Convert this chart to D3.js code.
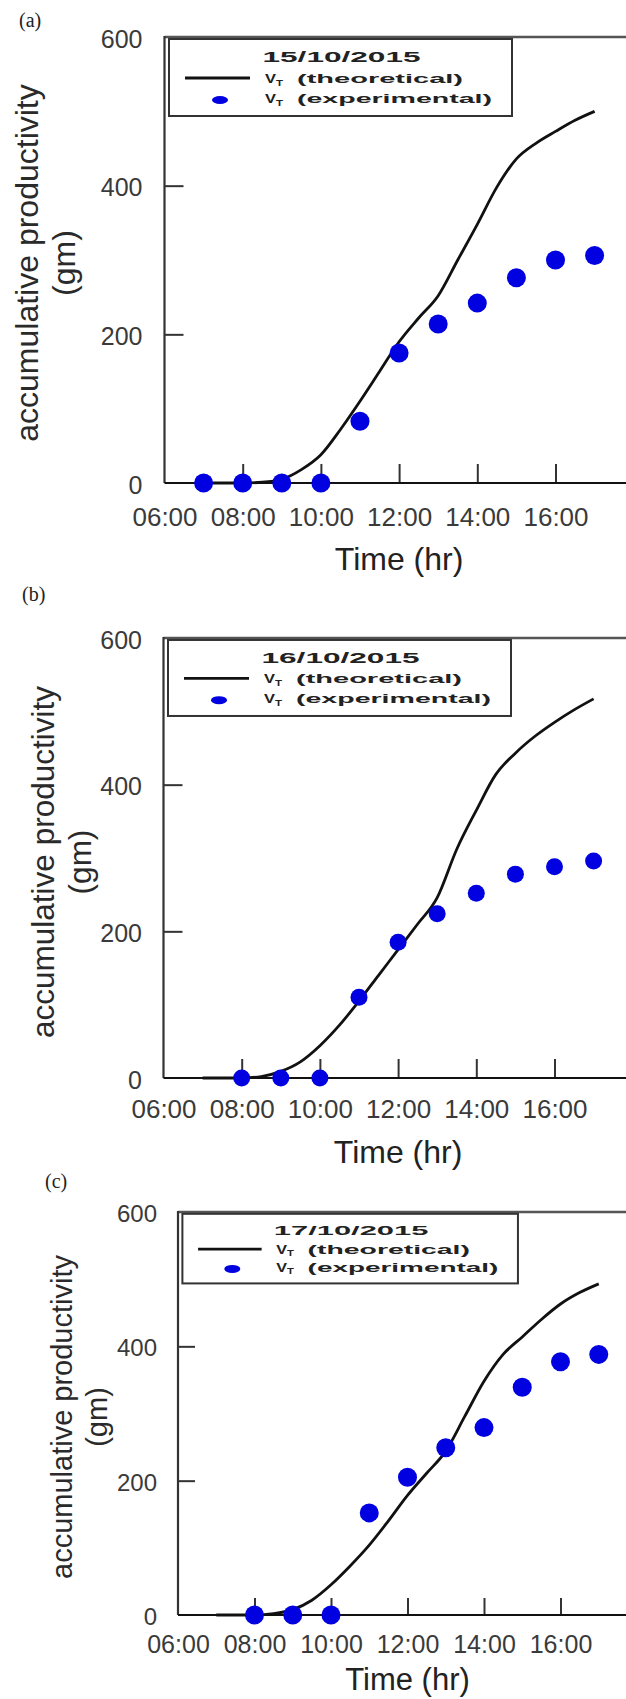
<!DOCTYPE html>
<html><head><meta charset="utf-8">
<script src="https://cdn.jsdelivr.net/npm/d3@7"></script>
<style>body{margin:0;background:#fff} svg{display:block}</style>
</head><body><svg id="c" width="626" height="1699"></svg>
<script>
const timeTickHours = [6, 8, 10, 12, 14, 16];
const timeLabels = ["06:00", "08:00", "10:00", "12:00", "14:00", "16:00"];
const yTicks = [0, 200, 400, 600];
const panelTags = ["(a)", "(b)", "(c)"];
const dates = ["15/10/2015", "16/10/2015", "17/10/2015"];
const legendLabels = ["(theoretical)", "(experimental)"];
const yTitle = ["accumulative productivity", "(gm)"];
const xTitle = "Time (hr)";

const theoHours = [7, 7.5, 8, 8.5, 9, 9.5, 10, 10.5, 11, 11.5, 12, 12.5, 13, 13.5, 14, 14.5, 15, 15.5, 16, 16.5, 17];
const theoA = [0, 0, 0, 1, 5, 18, 38, 72, 110, 150, 190, 222, 252, 300, 348, 398, 436, 457, 473, 488, 500];
const theoB = [0, 0, 0, 2, 9, 22, 44, 72, 105, 140, 175, 210, 246, 312, 365, 414, 443, 466, 485, 502, 517];
const theoC = [0, 0, 0, 2, 8, 22, 45, 73, 104, 140, 178, 211, 244, 296, 348, 388, 414, 440, 463, 480, 493];

const expHoursA = [7, 8, 9, 10, 11, 12, 13, 14, 15, 16, 17];
const expA = [0, 0, 0, 0, 83, 175, 214, 242, 276, 300, 306];
const expHoursB = [8, 9, 10, 11, 12, 13, 14, 15, 16, 17];
const expB = [0, 0, 0, 110, 185, 224, 252, 278, 288, 296];
const expHoursC = [8, 9, 10, 11, 12, 13, 14, 15, 16, 17];
const expC = [0, 0, 0, 152, 205, 249, 279, 339, 377, 388];

const panels = [
  {theo: theoA, expH: expHoursA, exp: expA},
  {theo: theoB, expH: expHoursB, exp: expB},
  {theo: theoC, expH: expHoursC, exp: expC}
];

// layout (pixels)
const layout = [
  {xl: 164.5, xr: 633.7, yt: 37, yb: 483, sy: 1, tagX: 19, tagY: 27, titleX: 38, titleY: 263, titleFs: 32, gmGap: 37,
   tickFs: 25, xFs: 26, xPad: 25, yPad: 22, xTitleY: 570, xTitleFs: 32, r: 9.5, tickLen: 19},
  {xl: 163.5, xr: 632.7, yt: 638, yb: 1078, sy: 0.987, tagX: 22, tagY: 601, titleX: 54, titleY: 862, titleFs: 31.5, gmGap: 37,
   tickFs: 25, xFs: 26, xPad: 22, yPad: 21.5, xTitleY: 1163, xTitleFs: 32, r: 8.5, tickLen: 19},
  {xl: 178, xr: 637, yt: 1212, yb: 1615, sy: 0.904, tagX: 45, tagY: 1188, titleX: 72, titleY: 1417, titleFs: 29, gmGap: 35,
   tickFs: 24, xFs: 25, xPad: 20, yPad: 21, xTitleY: 1690, xTitleFs: 31, r: 9.5, tickLen: 17}
];

const sans = "'Liberation Sans', Arial, Helvetica, sans-serif";
const svg = d3.select("#c");

panels.forEach((p, i) => {
  const L = layout[i];
  const sx = (L.xr - L.xl) / 469.2;
  const sy = L.sy;
  const x = d3.scaleLinear().domain([6, 18]).range([L.xl, L.xr]);
  const y = d3.scaleLinear().domain([0, 600]).range([L.yb, L.yt]);
  const g = svg.append("g");

  // panel tag
  g.append("text").attr("x", L.tagX).attr("y", L.tagY)
    .attr("font-family", "'Liberation Serif', 'Times New Roman', serif")
    .attr("font-size", 20).attr("fill", "#222").text(panelTags[i]);

  // top border
  g.append("line").attr("x1", x(6)).attr("x2", x(18)).attr("y1", y(600)).attr("y2", y(600))
    .attr("stroke", "#555").attr("stroke-width", 2.6);

  // x axis
  const xa = d3.axisBottom(x).tickValues(timeTickHours)
    .tickFormat(d => timeLabels[timeTickHours.indexOf(d)])
    .tickSizeInner(-L.tickLen).tickSizeOuter(0).tickPadding(L.xPad);
  const gx = g.append("g").attr("transform", `translate(0,${L.yb})`).call(xa);
  gx.select(".domain").remove();
  gx.selectAll(".tick line").attr("stroke", "#333").attr("stroke-width", 2)
    .filter(d => d === 6).remove();
  gx.selectAll(".tick text").attr("font-family", sans).attr("font-size", L.xFs).attr("fill", "#3a3a3a");

  // y axis
  const ya = d3.axisLeft(y).tickValues(yTicks)
    .tickSizeInner(-L.tickLen).tickSizeOuter(0).tickPadding(L.yPad);
  const gy = g.append("g").attr("transform", `translate(${L.xl},0)`).call(ya);
  gy.select(".domain").remove();
  gy.selectAll(".tick line").attr("stroke", "#333").attr("stroke-width", 2)
    .filter(d => d === 0 || d === 600).remove();
  gy.selectAll(".tick text").attr("font-family", sans).attr("font-size", L.tickFs)
    .attr("fill", "#3a3a3a").attr("dy", "0.4em");

  // left axis & bottom axis lines
  g.append("line").attr("x1", L.xl).attr("x2", L.xl).attr("y1", y(600) - 1).attr("y2", y(0))
    .attr("stroke", "#333").attr("stroke-width", 2.2);
  g.append("line").attr("x1", L.xl).attr("x2", x(18)).attr("y1", y(0)).attr("y2", y(0))
    .attr("stroke", "#111").attr("stroke-width", 2);

  // y title
  g.append("text").attr("transform", `translate(${L.titleX},${L.titleY}) rotate(-90)`)
    .attr("text-anchor", "middle").attr("font-family", sans).attr("font-size", L.titleFs)
    .attr("fill", "#2a2a2a").text(yTitle[0]);
  g.append("text").attr("transform", `translate(${L.titleX + L.gmGap},${L.titleY}) rotate(-90)`)
    .attr("text-anchor", "middle").attr("font-family", sans).attr("font-size", L.titleFs)
    .attr("fill", "#2a2a2a").text(yTitle[1]);

  // x title
  g.append("text").attr("x", (L.xl + L.xr) / 2).attr("y", L.xTitleY)
    .attr("text-anchor", "middle").attr("font-family", sans).attr("font-size", L.xTitleFs)
    .attr("fill", "#222").text(xTitle);

  // theoretical curve
  const line = d3.line().x(d => x(d[0])).y(d => y(d[1])).curve(d3.curveMonotoneX);
  g.append("path").datum(theoHours.map((h, k) => [h, p.theo[k]]))
    .attr("d", line).attr("fill", "none").attr("stroke", "#111").attr("stroke-width", 2.8);

  // experimental points
  g.selectAll("circle.exp").data(p.expH.map((h, k) => [h, p.exp[k]])).enter()
    .append("circle").attr("class", "exp")
    .attr("cx", d => x(d[0])).attr("cy", d => y(d[1])).attr("r", L.r)
    .attr("fill", "#0000e0");

  // legend
  const lx = L.xl, ly = L.yt;
  const lg = g.append("g");
  lg.append("rect").attr("x", lx + 4.5 * sx).attr("y", ly + 2 * sy)
    .attr("width", 343 * sx).attr("height", 77 * sy)
    .attr("fill", "#fff").attr("stroke", "#333").attr("stroke-width", 2);
  lg.append("text").attr("x", lx + 98 * sx).attr("y", ly + 25 * sy)
    .attr("font-family", sans).attr("font-weight", "bold").attr("font-size", 15 * sy)
    .attr("fill", "#222").attr("textLength", 158 * sx).attr("lengthAdjust", "spacingAndGlyphs")
    .text(dates[i]);
  lg.append("line").attr("x1", lx + 20.5 * sx).attr("x2", lx + 85.5 * sx)
    .attr("y1", ly + 41 * sy).attr("y2", ly + 41 * sy).attr("stroke", "#111").attr("stroke-width", 2.8);
  lg.append("ellipse").attr("cx", lx + 55.5 * sx).attr("cy", ly + 63 * sy)
    .attr("rx", 8).attr("ry", 4).attr("fill", "#0000e0");
  const rows = [46, 66];
  const widths = [166, 195];
  rows.forEach((b, k) => {
    const by = ly + b * sy;
    lg.append("text").attr("x", lx + 100.5 * sx).attr("y", by)
      .attr("font-family", sans).attr("font-weight", "bold").attr("font-size", 13.5 * sy)
      .attr("fill", "#222").attr("textLength", 11 * sx).attr("lengthAdjust", "spacingAndGlyphs").text("V");
    lg.append("text").attr("x", lx + 111.5 * sx).attr("y", by + 2.5 * sy)
      .attr("font-family", sans).attr("font-weight", "bold").attr("font-size", 9.5 * sy)
      .attr("fill", "#222").attr("textLength", 7 * sx).attr("lengthAdjust", "spacingAndGlyphs").text("T");
    lg.append("text").attr("x", lx + 132.5 * sx).attr("y", by)
      .attr("font-family", sans).attr("font-weight", "bold").attr("font-size", 13.5 * sy)
      .attr("fill", "#222").attr("textLength", widths[k] * sx).attr("lengthAdjust", "spacingAndGlyphs")
      .text(legendLabels[k]);
  });
});
</script>
</body></html>
